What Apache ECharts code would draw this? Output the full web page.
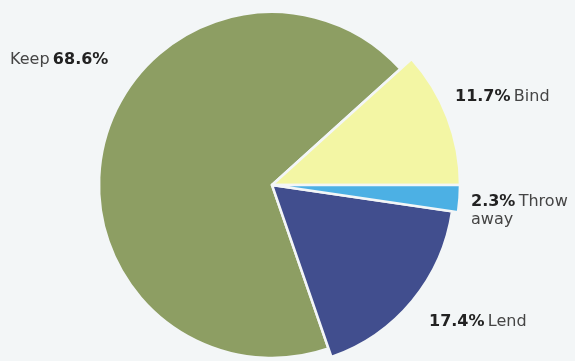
<!DOCTYPE html>
<html><head><meta charset="utf-8">
<script src="https://cdn.jsdelivr.net/npm/echarts@6/dist/echarts.min.js"></script>
<style>html,body{margin:0;padding:0;background:#f3f6f7}#c{width:575px;height:361px}</style>
</head><body><div id="c"></div>
<script>
const categories = ['Bind', 'Throw away', 'Lend', 'Keep'];
const values = [11.7, 2.3, 17.4, 68.6];
const labelNames = ['Bind', 'Throw\naway', 'Lend', 'Keep'];
const colors = ['#f3f6a4', '#4cb0e4', '#414e8e', '#8d9e63'];

const labelPos = [
  {x: 455, y: 97, align: 'left', verticalAlign: 'middle'},
  {x: 471, y: 193, align: 'left', verticalAlign: 'top'},
  {x: 429, y: 322, align: 'left', verticalAlign: 'middle'},
  {x: 10, y: 60, align: 'left', verticalAlign: 'middle'}
];

function makeData(showIdx) {
  return categories.map((c, i) => {
    const vis = showIdx.indexOf(i) >= 0;
    return {
      name: c, value: values[i],
      itemStyle: {color: vis ? colors[i] : 'rgba(0,0,0,0)', borderColor: vis ? '#f3f6f7' : 'rgba(0,0,0,0)', borderWidth: vis ? 2.5 : 0},
      label: {show: vis}
    };
  });
}

const rich = {
  b: {fontFamily: 'DejaVu Sans', fontWeight: 'bold', fontSize: 16, color: '#222', lineHeight: 18},
  n: {fontFamily: 'DejaVu Sans', fontSize: 16, color: '#454545', lineHeight: 18}
};

function fmt(p) {
  const name = labelNames[p.dataIndex];
  const pct = p.value.toFixed(1) + '%';
  if (name === 'Keep') return '{n|Keep} {b|' + pct + '}';
  if (name.indexOf('\n') >= 0) {
    const parts = name.split('\n');
    return '{b|' + pct + '} {n|' + parts[0] + '}\n{n|' + parts[1] + '}';
  }
  return '{b|' + pct + '} {n|' + name + '}';
}

const common = {
  type: 'pie',
  center: [272, 185],
  startAngle: 42.1,
  clockwise: true,
  animation: false,
  silent: true,
  avoidLabelOverlap: false,
  label: {show: true, position: 'outside', alignTo: 'none', overflow: 'none', formatter: fmt, rich: rich},
  labelLine: {show: false},
  labelLayout: function (p) { return labelPos[p.dataIndex]; }
};

const chart = echarts.init(document.getElementById('c'));
chart.setOption({
  backgroundColor: '#f3f6f7',
  series: [
    Object.assign({}, common, {radius: [0, 173], data: makeData([3])}),
    Object.assign({}, common, {radius: [0, 182], data: makeData([2])}),
    Object.assign({}, common, {radius: [0, 188], data: makeData([0, 1])})
  ]
});
</script></body></html>
